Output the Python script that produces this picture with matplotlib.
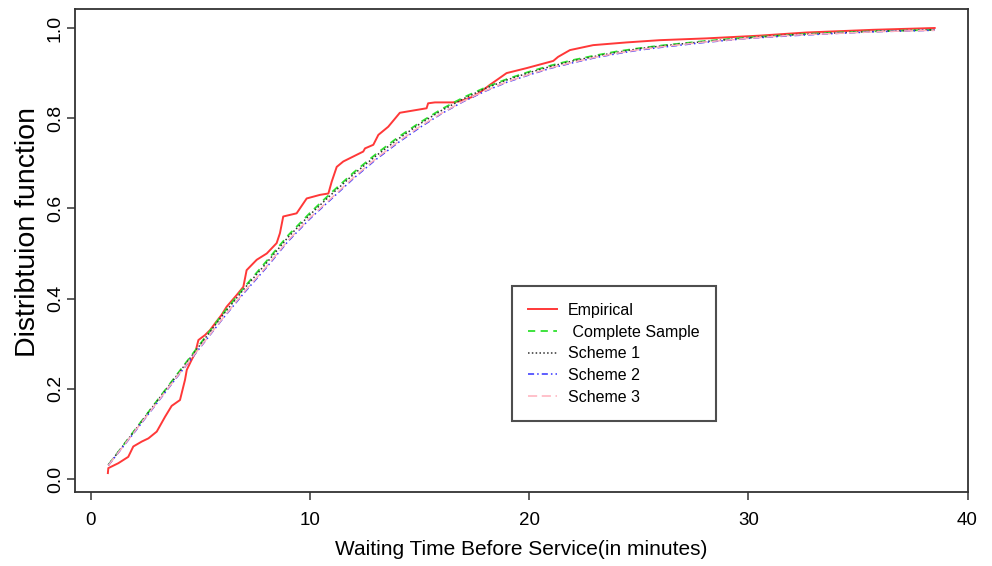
import matplotlib
matplotlib.use("Agg")
from matplotlib import pyplot as plt

# empirical distribution
emp_x = [0.78, 0.80, 1.26, 1.71, 1.94, 2.33, 2.63, 3.01, 3.39, 3.69, 4.07, 4.30, 4.38, 4.60,
         4.76, 4.91, 5.21, 5.44, 5.67, 5.97, 6.20, 6.66, 6.96, 7.11, 7.57, 8.03, 8.48, 8.63,
         8.78, 9.39, 9.85, 10.46, 10.84, 10.99, 11.22, 11.52, 12.43, 12.51, 12.89, 13.12,
         13.57, 14.10, 15.32, 15.39, 15.70, 16.53, 16.99, 17.45, 17.75, 18.21, 18.97, 19.88,
         21.10, 21.32, 21.86, 22.92, 24.44, 25.96, 28.10, 30.50, 32.65, 35.70, 38.50]
emp_y = [0.013, 0.024, 0.035, 0.049, 0.072, 0.083, 0.090, 0.105, 0.138, 0.162, 0.175, 0.220,
         0.242, 0.264, 0.279, 0.308, 0.319, 0.330, 0.345, 0.364, 0.382, 0.408, 0.426, 0.463,
         0.486, 0.500, 0.523, 0.545, 0.582, 0.589, 0.622, 0.630, 0.633, 0.659, 0.692, 0.704,
         0.726, 0.733, 0.741, 0.763, 0.781, 0.812, 0.822, 0.833, 0.835, 0.835, 0.840, 0.848,
         0.857, 0.874, 0.900, 0.911, 0.927, 0.936, 0.951, 0.962, 0.968, 0.973, 0.977, 0.983,
         0.990, 0.996, 1.000]

# fitted distribution functions
fit_x = [0.8, 2, 3, 4, 5, 6, 7, 8, 9, 10, 11, 12, 13, 14, 15, 16, 17, 18, 19, 20, 21, 22,
         23, 24, 25, 26, 28, 30, 32, 34, 36, 38.5]
complete_y = [0.031, 0.108, 0.172, 0.236, 0.300, 0.365, 0.425, 0.482, 0.540, 0.590, 0.636,
              0.680, 0.720, 0.757, 0.790, 0.820, 0.846, 0.868, 0.887, 0.903, 0.917, 0.929,
              0.939, 0.948, 0.955, 0.961, 0.971, 0.979, 0.985, 0.990, 0.993, 0.996]
scheme1_y = [0.031, 0.107, 0.171, 0.234, 0.298, 0.362, 0.422, 0.478, 0.536, 0.586, 0.632,
             0.676, 0.716, 0.753, 0.787, 0.817, 0.843, 0.866, 0.885, 0.901, 0.915, 0.927,
             0.937, 0.946, 0.954, 0.960, 0.970, 0.978, 0.985, 0.989, 0.993, 0.996]
scheme2_y = [0.030, 0.104, 0.167, 0.230, 0.292, 0.354, 0.413, 0.468, 0.527, 0.577, 0.622,
             0.667, 0.708, 0.745, 0.779, 0.810, 0.837, 0.860, 0.880, 0.896, 0.911, 0.923,
             0.934, 0.943, 0.951, 0.957, 0.968, 0.977, 0.983, 0.988, 0.992, 0.995]
scheme3_y = [0.030, 0.105, 0.168, 0.231, 0.293, 0.355, 0.415, 0.470, 0.529, 0.579, 0.624,
             0.669, 0.710, 0.747, 0.781, 0.811, 0.838, 0.861, 0.881, 0.897, 0.912, 0.924,
             0.935, 0.944, 0.952, 0.958, 0.969, 0.977, 0.984, 0.988, 0.992, 0.995]

x_ticks = [0, 10, 20, 30, 40]
y_ticks = [0.0, 0.2, 0.4, 0.6, 0.8, 1.0]

FONT = ["Liberation Sans", "DejaVu Sans"]

fig = plt.figure(figsize=(9.92, 5.66), dpi=100)
ax = fig.add_axes([0.0756, 0.1299, 0.9002, 0.8541])

ax.plot(emp_x, emp_y, color="#ff3838", lw=1.4, label="Empirical")
ax.plot(fit_x, complete_y, color="#2ee02e", lw=1.3, ls=(0, (4, 3)), label=" Complete Sample")
ax.plot(fit_x, scheme1_y, color="#333333", lw=1.1, ls=(0, (1, 1.5)), label="Scheme 1")
ax.plot(fit_x, scheme2_y, color="#3333ff", lw=1.1, ls=(0, (4, 2, 1, 2)), label="Scheme 2")
ax.plot(fit_x, scheme3_y, color="#ffb0bc", lw=1.1, ls=(0, (6, 3)), label="Scheme 3")

ax.set_xlim(-0.72, 40.02)
ax.set_ylim(-0.030, 1.042)
ax.set_xticks(x_ticks)
ax.set_xticklabels([str(t) for t in x_ticks], fontsize=13.5, family=FONT)
ax.set_yticks(y_ticks)
ax.set_yticklabels([f"{t:.1f}" for t in y_ticks], fontsize=14, family=FONT,
                   rotation=90, va="center")
ax.tick_params(axis="both", direction="out", length=6, width=1.1, color="#333333")
ax.tick_params(axis="x", pad=8)
ax.tick_params(axis="y", pad=2)
for s in ax.spines.values():
    s.set_color("#333333")
    s.set_linewidth(1.3)

ax.set_xlabel("Waiting Time Before Service(in minutes)", fontsize=15, family=FONT)
ax.xaxis.set_label_coords(0.5, -0.117)
ax.xaxis.label.set_va("center")
ax.set_ylabel("Distribtuion function", fontsize=20.5, family=FONT)
ax.yaxis.set_label_coords(-0.0526, 0.539)
ax.yaxis.label.set_va("center")

leg = ax.legend(loc="upper left", bbox_to_anchor=(0.489, 0.427), borderaxespad=0,
                prop={"family": FONT, "size": 11.5}, frameon=True, fancybox=False,
                handlelength=1.8, handletextpad=0.65, labelspacing=0.42, borderpad=1.05)
leg.get_frame().set_edgecolor("#222222")
leg.get_frame().set_linewidth(1.5)

fig.savefig("out.png", dpi=100)
